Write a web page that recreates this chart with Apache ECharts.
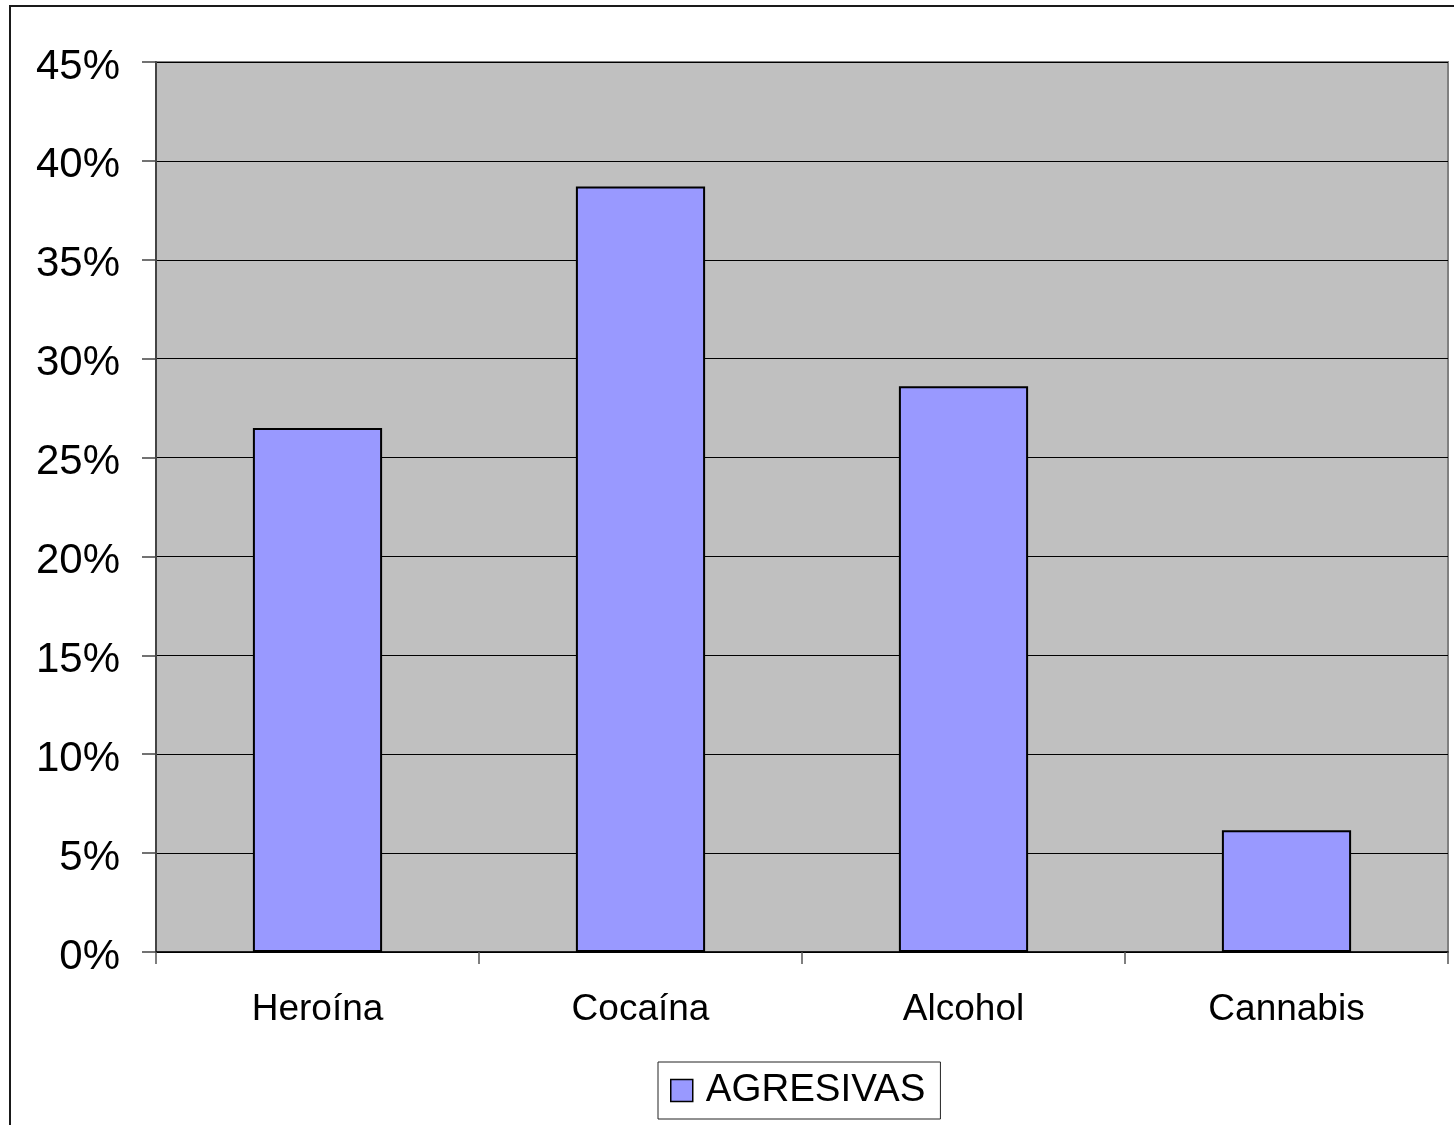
<!DOCTYPE html>
<html>
<head>
<meta charset="utf-8">
<style>
  html, body { margin: 0; padding: 0; background: #ffffff; }
  #chart { width: 1454px; height: 1125px; }
</style>
<script src="https://cdn.jsdelivr.net/npm/echarts@6/dist/echarts.min.js"></script>
</head>
<body>
<div id="chart"></div>
<script>
// Share of aggressive episodes per substance (%)
const categories = ['Heroína', 'Cocaína', 'Alcohol', 'Cannabis'];
const agresivas = [26.5, 38.7, 28.6, 6.15];
const seriesName = 'AGRESIVAS';

const chart = echarts.init(document.getElementById('chart'), null, { renderer: 'canvas' });

const font = 'Liberation Sans, Arial, sans-serif';

chart.setOption({
  animation: false,
  backgroundColor: '#ffffff',
  graphic: [{
    type: 'rect',
    shape: { x: 10, y: 6, width: 1470, height: 1140 },
    style: { fill: 'none', stroke: '#1a1a1a', lineWidth: 2 },
    z: 100
  }],
  grid: {
    left: 156, right: 6, top: 62, bottom: 173,
    show: true,
    backgroundColor: '#c0c0c0',
    borderColor: '#808080',
    borderWidth: 2
  },
  legend: {
    data: [{ name: seriesName, icon: 'rect' }],
    left: 658,
    top: 1062,
    itemWidth: 22,
    itemHeight: 22,
    itemGap: 10,
    padding: [9, 15, 9, 12],
    borderColor: '#222222',
    borderWidth: 1,
    backgroundColor: '#ffffff',
    textStyle: { fontFamily: font, fontSize: 38.5, color: '#000000', padding: [2, 0, 0, 8] },
    itemStyle: { borderColor: '#000000', borderWidth: 1.5 }
  },
  xAxis: {
    type: 'category',
    data: categories,
    axisLine: { show: true, lineStyle: { color: '#000000', width: 1.5 } },
    axisTick: { show: true, length: 12, lineStyle: { color: '#555555', width: 1.5 } },
    axisLabel: { fontFamily: font, fontSize: 37, color: '#000000', margin: 39 },
    splitLine: { show: false }
  },
  yAxis: {
    type: 'value',
    min: 0,
    max: 45,
    interval: 5,
    axisLine: { show: true, lineStyle: { color: '#444444', width: 2 } },
    axisTick: { show: true, length: 14, lineStyle: { color: '#444444', width: 1.5 } },
    axisLabel: {
      margin: 36,
      formatter: v => `{p|${v}%}`,
      rich: {
        p: { fontFamily: font, fontSize: 42, color: '#000000', lineHeight: 42, padding: [10, 0, 0, 0] }
      }
    },
    splitLine: { show: true, lineStyle: { color: '#000000', width: 1 } }
  },
  series: [{
    name: seriesName,
    type: 'bar',
    data: agresivas,
    barWidth: '40%',
    itemStyle: { color: '#9999ff', borderColor: '#000000', borderWidth: 2 }
  }]
});
</script>
</body>
</html>
